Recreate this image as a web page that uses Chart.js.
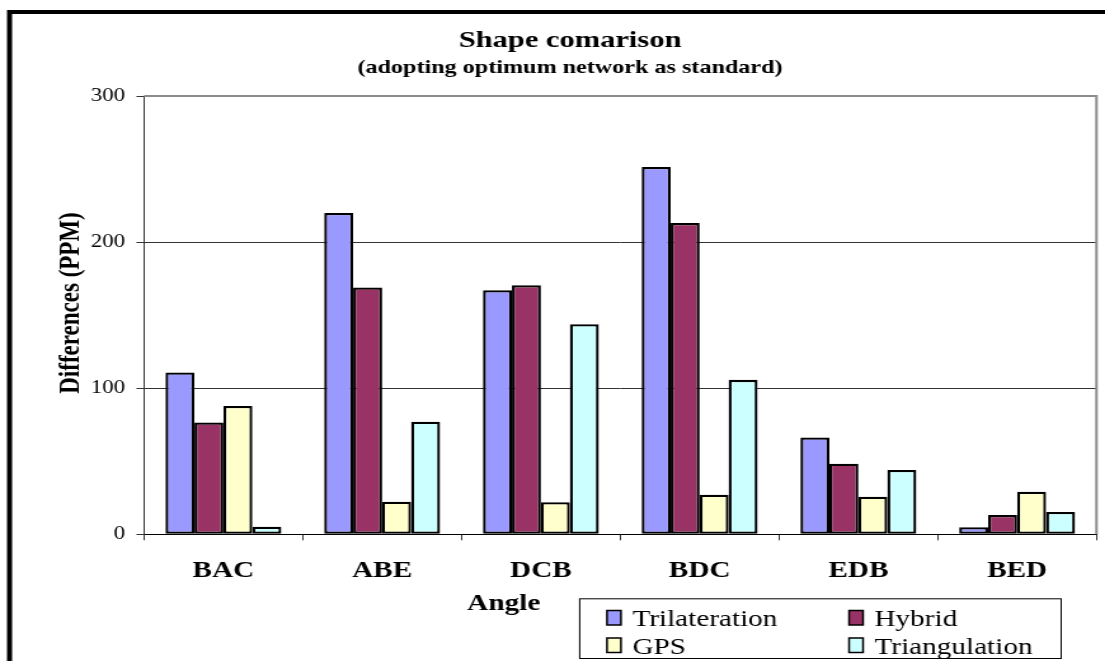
<!DOCTYPE html>
<html>
<head>
<meta charset="utf-8">
<title>Shape comarison</title>
<script src="https://cdn.jsdelivr.net/npm/chart.js@4/dist/chart.umd.min.js"></script>
<style>
  html, body { margin: 0; padding: 0; background: #ffffff; overflow: hidden; }
</style>
</head>
<body>
<canvas id="c" width="870" height="661" style="display:block;width:1105px;height:661px"></canvas>
<script>
// Angles compared across the four survey methods (differences in PPM)
const angles = ['BAC', 'ABE', 'DCB', 'BDC', 'EDB', 'BED'];
const trilateration = [110.8, 220, 167, 251.4, 66.3, 4.8];
const hybrid = [76.6, 169, 170.5, 213.1, 48.3, 13.2];
const gps = [87.8, 22.3, 21.9, 27.1, 25.7, 29.1];
const triangulation = [5.2, 77.0, 143.8, 105.7, 44.0, 15.3];
const yTicks = [0, 100, 200, 300];

const seriesNames = ['Trilateration', 'Hybrid', 'GPS', 'Triangulation'];
const seriesColors = ['#9999FF', '#993366', '#FFFFCC', '#CCFFFF'];

const SERIF = "'Liberation Serif', 'Times New Roman', serif";

// Canvas is drawn at 870 px wide and shown at 1105 px, giving the wide lettering
const W = 870, H = 661;
const AREA = { left: 113.4, right: 863.3, top: 96, bottom: 534.3 };
const X_AXIS_H = 70;

// Background, outer frame, plot border, titles and the boxed legend
const decorations = {
  id: 'decorations',
  beforeDraw(chart) {
    const ctx = chart.ctx;
    ctx.save();
    ctx.fillStyle = '#ffffff';
    ctx.fillRect(0, 0, W, H);
    ctx.restore();
  },
  beforeDatasetsDraw(chart) {
    const ctx = chart.ctx;
    const a = chart.chartArea;
    ctx.save();
    ctx.strokeStyle = '#8c8c8c';
    ctx.lineWidth = 2;
    ctx.beginPath();
    ctx.moveTo(a.left, a.top);
    ctx.lineTo(a.right, a.top);
    ctx.lineTo(a.right, a.bottom);
    ctx.stroke();
    ctx.restore();
  },
  afterDraw(chart) {
    const ctx = chart.ctx;
    ctx.save();
    // outer frame
    ctx.strokeStyle = '#000';
    ctx.lineWidth = 4;
    ctx.strokeRect(7.5, 12, W + 40, H + 40);

    // titles
    ctx.fillStyle = '#000';
    ctx.textAlign = 'center';
    ctx.textBaseline = 'alphabetic';
    ctx.font = 'bold 24px ' + SERIF;
    ctx.fillText('Shape comarison', 448.8, 47.3);
    ctx.font = 'bold 19px ' + SERIF;
    ctx.fillText('(adopting optimum network as standard)', 448.8, 73.3);

    // axis titles
    ctx.font = 'bold 23px ' + SERIF;
    ctx.fillText('Angle', 396.6, 610);
    ctx.save();
    ctx.translate(62, 303);
    ctx.rotate(-Math.PI / 2);
    ctx.textBaseline = 'alphabetic';
    ctx.fillText('Differences (PPM)', 0, 0);
    ctx.restore();

    // legend box
    const box = { left: 455.9, top: 598.3, right: 835, bottom: 658 };
    ctx.fillStyle = '#fff';
    ctx.fillRect(box.left, box.top, box.right - box.left, box.bottom - box.top);
    ctx.strokeStyle = '#000';
    ctx.lineWidth = 1;
    ctx.strokeRect(box.left + 0.5, box.top + 0.5, box.right - box.left, box.bottom - box.top);

    const colX = [477.9, 668.5];
    const rowY = [626, 653.5];
    ctx.font = '23px ' + SERIF;
    ctx.textAlign = 'left';
    chart.data.datasets.forEach((ds, i) => {
      const cx = colX[i % 2];
      const by = rowY[Math.floor(i / 2)];
      ctx.fillStyle = ds.backgroundColor;
      ctx.fillRect(cx, by - 15.5, 11, 14.5);
      ctx.strokeStyle = '#000';
      ctx.lineWidth = 1.5;
      ctx.strokeRect(cx, by - 15.5, 11, 14.5);
      ctx.fillStyle = '#000';
      ctx.fillText(ds.label, cx + 20, by);
    });
    ctx.restore();
  }
};

const seriesValues = [trilateration, hybrid, gps, triangulation];

new Chart(document.getElementById('c'), {
  type: 'bar',
  data: {
    labels: angles,
    datasets: seriesValues.map((vals, i) => ({
      label: seriesNames[i],
      data: vals,
      backgroundColor: seriesColors[i],
      borderColor: '#000000',
      borderWidth: 2.3,
      borderSkipped: false,
      categoryPercentage: 0.73,
      barPercentage: 1.0
    }))
  },
  options: {
    responsive: false,
    devicePixelRatio: 1,
    animation: false,
    events: [],
    layout: {
      padding: {
        left: 0,
        top: AREA.top,
        right: W - AREA.right,
        bottom: H - AREA.bottom - X_AXIS_H
      }
    },
    plugins: {
      legend: { display: false },
      title: { display: false },
      tooltip: { enabled: false }
    },
    scales: {
      x: {
        afterFit(scale) { scale.height = X_AXIS_H; },
        grid: {
          display: true,
          offset: true,
          drawOnChartArea: false,
          drawTicks: true,
          tickLength: 6,
          tickColor: '#333',
          tickWidth: 1
        },
        border: { display: true, color: '#000', width: 1 },
        ticks: {
          color: '#000',
          padding: 17,
          font: { family: SERIF, size: 23, weight: 'bold' }
        }
      },
      y: {
        min: 0,
        max: 300,
        afterFit(scale) { scale.width = AREA.left; },
        afterBuildTicks(scale) { scale.ticks = yTicks.map(v => ({ value: v })); },
        grid: {
          color: (c) => (c.tick && c.tick.value === 300 ? 'rgba(0,0,0,0)' : '#333'),
          lineWidth: 1,
          drawTicks: true,
          tickLength: 6,
          tickColor: '#333',
          tickWidth: 1
        },
        border: { display: true, color: '#333', width: 1 },
        ticks: {
          color: '#000',
          padding: 9,
          font: { family: SERIF, size: 18 }
        }
      }
    }
  },
  plugins: [decorations]
});
</script>
</body>
</html>
